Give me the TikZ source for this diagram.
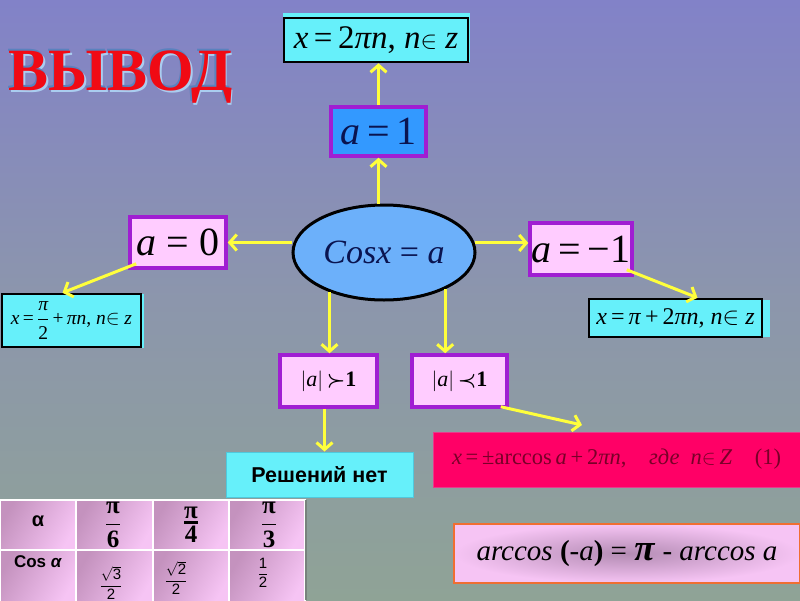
\documentclass[tikz,border=0pt]{standalone}
\usepackage{fontspec}
\setmainfont{Liberation Serif}
\setsansfont{Liberation Sans}
\usetikzlibrary{arrows.meta,shapes.geometric,calc}
\definecolor{bgtop}{RGB}{130,130,200}
\definecolor{bgmid}{RGB}{140,150,172}
\definecolor{bgbot}{RGB}{143,163,150}
\definecolor{cyanbox}{RGB}{102,240,250}
\definecolor{cyanedge}{RGB}{80,200,220}
\definecolor{pinkbox}{RGB}{255,204,255}
\definecolor{purpleb}{RGB}{160,30,210}
\definecolor{bluebox}{RGB}{51,153,255}
\definecolor{ellfill}{RGB}{108,176,250}
\definecolor{arrowy}{RGB}{255,255,60}
\definecolor{redbox}{RGB}{255,0,102}
\definecolor{rededge}{RGB}{230,60,140}
\definecolor{redtext}{RGB}{120,0,40}
\definecolor{navy}{RGB}{10,20,80}
\definecolor{orangeb}{RGB}{240,110,50}
\definecolor{cellA}{RGB}{196,146,190}
\definecolor{cellB}{RGB}{246,196,244}
\definecolor{ruleinner}{RGB}{180,140,180}
\definecolor{tableedge}{RGB}{120,130,125}
\definecolor{titlered}{RGB}{240,10,20}
\definecolor{titleblue}{RGB}{90,130,190}
\definecolor{titlelight}{RGB}{170,205,240}
\newcommand\fs[1]{\fontsize{#1}{#1}\selectfont}
\begin{document}
\begin{tikzpicture}[x=1pt,y=-1pt,
  formbox/.style={draw=black, line width=2.5pt, fill=cyanbox, inner sep=0pt},
  casebox/.style={draw=purpleb, line width=3.5pt, fill=pinkbox, inner sep=0pt},
  conn/.style={draw=arrowy, line width=3pt, -{Straight Barb[length=7pt,width=16pt]}},
  cell/.style={draw=white, line width=1.5pt, left color=cellA, right color=cellB, shading angle=60},
  celltext/.style={inner sep=0pt},
]
\useasboundingbox (0,0) rectangle (800,600);
\shade[top color=bgtop, bottom color=bgbot, middle color=bgmid] (0,0) rectangle (800,600);

% title
\node[inner sep=0pt, anchor=base west, text=titlelight] (titleC) at (10,92) {\fs{60}\bfseries ВЫВОД};
\node[inner sep=0pt, anchor=base west, text=titleblue] (titleB) at (7,88) {\fs{60}\bfseries ВЫВОД};
\node[inner sep=0pt, anchor=base west, text=titlered] (title) at (8.5,90) {\fs{60}\bfseries ВЫВОД};

% cyan fill extensions
\fill[cyanbox] (283,13) rectangle (470,62);
\fill[cyanbox] (2,294) rectangle (144,348);
\fill[cyanbox] (590,300) rectangle (770,337);

% nodes
\node[formbox, minimum width=184pt, minimum height=44pt] (topbox) at (376,40)
  {\fs{33}\textit{x}\,=\,2\textit{πn}, \textit{n}$\in$ \textit{z}};
\node[draw=purpleb, line width=3.5pt, fill=bluebox, inner sep=0pt, minimum width=95pt, minimum height=49pt] (a1) at (378.5,131.5)
  {\color{navy}\fs{40}\textit{a}\,=\,1};
\node[ellipse, draw=black, line width=3pt, fill=ellfill, inner sep=0pt, minimum width=182pt, minimum height=95pt] (ell) at (384,252.5)
  {\color{navy}\fs{34}\textit{Cosx} = \textit{a}};
\node[casebox, minimum width=96pt, minimum height=51pt] (a0) at (178,242.5)
  {\fs{40}\textit{a} = 0};
\node[casebox, minimum width=102pt, minimum height=52pt] (am1) at (581,249)
  {\fs{40}\textit{a}\,=\,−1};
\node[formbox, minimum width=139pt, minimum height=53pt] (leftf) at (71.5,320.5)
  {\fs{19.5}\textit{x}\,=\,$\displaystyle\frac{\hbox{\itshape π}}{\hbox{2}}$\,+\,\textit{πn}, \textit{n}$\in$ \textit{z}};
\node[formbox, minimum width=173pt, minimum height=38pt] (rightf) at (675.5,318)
  {\fs{24}\textit{x}\,=\,\textit{π}\,+\,2\textit{πn}, \textit{n}$\in$ \textit{z}};
\node[casebox, minimum width=97pt, minimum height=52pt] (agt) at (328.5,381)
  {\fs{22}$\Bigl|\hbox{\itshape a}\Bigr|$\,{\boldmath$\succ$}\textbf{1}};
\node[casebox, minimum width=95pt, minimum height=52pt] (alt) at (459.5,381)
  {\fs{22}$\Bigl|\hbox{\itshape a}\Bigr|$\,{\boldmath$\prec$}\textbf{1}};
\node[draw=cyanedge, line width=1pt, fill=cyanbox, inner sep=0pt, minimum width=187pt, minimum height=45pt] (nosol) at (319.5,474.5)
  {\sffamily\bfseries\fs{21.5}Решений нет};
\node[draw=rededge, line width=1pt, fill=redbox, inner sep=0pt, minimum width=367pt, minimum height=55pt] (red) at (616.5,459.5)
  {\color{redtext}\fs{22.5}\textit{x}\,=\,±arccos\,\textit{a}\,+\,2\textit{πn},\quad\textit{где}\enspace\textit{n}$\in$\,\textit{Z}\quad (1)};
\node[draw=orangeb, line width=2.5pt, inner color=ruleinner, outer color=cellB, inner sep=0pt, minimum width=346pt, minimum height=59pt] (rule) at (627,553.5)
  {\fs{29}\textit{arccos} \textbf{(}-\textit{a}\textbf{)} = {\fs{37}\bfseries\textit{π}} - \textit{arccos a}};

% table
\shade[cell] (0,500) rectangle (76,550);
\shade[cell] (76,500) rectangle (153,550);
\shade[cell] (153,500) rectangle (229,550);
\shade[cell] (229,500) rectangle (305,550);
\shade[cell] (0,550) rectangle (76,602);
\shade[cell] (76,550) rectangle (153,602);
\shade[cell] (153,550) rectangle (229,602);
\shade[cell] (229,550) rectangle (305,602);
\draw[line width=1.5pt, tableedge] (306,500) -- (306,600);
\node[celltext] (t11) at (38,521) {\sffamily\bfseries\fs{20}α};
\node[celltext] (t12) at (113,525) {\fs{25}$\displaystyle\frac{\hbox{\bfseries π}}{\hbox{\bfseries 6}}$};
\node[celltext] (t13) at (191,525) {\fs{25}${\hbox{\bfseries π}\above 2.5pt \hbox{\bfseries 4}}$};
\node[celltext] (t14) at (269,525) {\fs{25}$\displaystyle\frac{\hbox{\bfseries π}}{\hbox{\bfseries 3}}$};
\node[celltext] (t21) at (38,562) {\sffamily\bfseries\fs{17}Cos \textit{α}};
\node[celltext] (t22) at (111,583) {\fs{15}$\displaystyle\frac{\sqrt{\hbox{\sffamily 3}}}{\hbox{\sffamily 2}}$};
\node[celltext] (t23) at (176,578) {\fs{15}$\displaystyle\frac{\sqrt{\hbox{\sffamily 2}}}{\hbox{\sffamily 2}}$};
\node[celltext] (t24) at (263,573) {\fs{15}$\displaystyle\frac{\hbox{\sffamily 1}}{\hbox{\sffamily 2}}$};

% connectors
\draw[conn] (a1.north) -- (a1.north |- topbox.south);
\draw[conn] (ell.north -| a1.south) -- (a1.south);
\draw[conn] (ell.west |- a0.east) -- (a0.east);
\draw[conn] (ell.6) -- (ell.6 -| am1.west);
\draw[conn] ($(a0.south west)+(8,-6)$) -- ($(leftf.north)+(-9,0)$);
\draw[conn] ($(am1.south east)+(-7,-7)$) -- ($(rightf.north)+(22,0)$);
\draw[conn] (ell.216) -- (ell.216 |- agt.north);
\draw[conn] (ell.-31.5) -- (ell.-31.5 |- alt.north);
\draw[conn] ([xshift=-4pt]agt.south) -- ([xshift=-4pt]agt.south |- nosol.north);
\coordinate (altend) at (582,425);
\draw[conn] ($(alt.south east)+(-8,-2)$) -- (altend);
\end{tikzpicture}
\end{document}
